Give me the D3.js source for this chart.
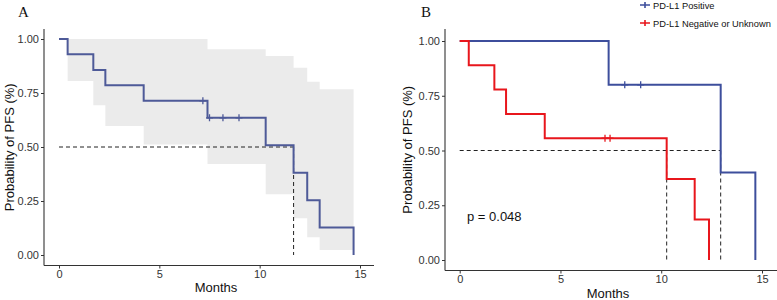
<!DOCTYPE html>
<html>
<head>
<meta charset="utf-8">
<script src="https://cdn.jsdelivr.net/npm/d3@7"></script>
<style>
  body { margin: 0; background: #fff; }
  text { font-family: Arial, "Liberation Sans", sans-serif; }
</style>
</head>
<body>
<script>
const W = 777, H = 300;

// shared ticks
const monthTicks = [0, 5, 10, 15];
const probTicks = [0, 0.25, 0.5, 0.75, 1];

// panel A: all patients
const aTime = [0, 0.43, 1.71, 2.31, 4.22, 7.40, 10.30, 11.69, 12.37, 12.99, 14.68];
const aSurv = [1, 0.929, 0.857, 0.786, 0.714, 0.635, 0.508, 0.381, 0.254, 0.127, 0];
const aUpper = [1, 1, 1, 1, 1, 0.952, 0.921, 0.867, 0.802, 0.767, 0.767];
const aLower = [1, 0.806, 0.693, 0.597, 0.512, 0.421, 0.281, 0.170, 0.082, 0.023, 0.023];
const aCensorTime = [7.17, 7.50, 8.17, 8.97];
const aCensorSurv = [0.714, 0.635, 0.635, 0.635];
const aMedian = [11.69];

// panel B: by PD-L1 status
const posTime = [0, 7.39, 12.95, 14.67];
const posSurv = [1, 0.8, 0.4, 0];
const posCensorTime = [8.19, 8.98];
const posCensorSurv = [0.8, 0.8];

const negTime = [0, 0.45, 1.72, 2.30, 4.22, 10.27, 11.66, 12.37];
const negSurv = [1, 0.889, 0.778, 0.667, 0.556, 0.370, 0.185, 0];
const negCensorTime = [7.21, 7.46];
const negCensorSurv = [0.556, 0.556];
const bMedian = [10.27, 12.95];

const groupNames = ["PD-L1 Positive", "PD-L1 Negative or Unknown"];
const blueA = "#4e5a98", blue = "#3d4e9c", red = "#e8161c";

const svg = d3.select("body").append("svg")
  .attr("width", W)
  .attr("height", H);

function zip(t, s) { return t.map((d, i) => ({t: d, s: s[i]})); }

function panel(opt) {
  const x = d3.scaleLinear().domain([0, 15]).range([opt.x0, opt.x15]);
  const y = d3.scaleLinear().domain([0, 1]).range([opt.y0, opt.y1]);
  const g = svg.append("g");

  const step = d3.line().curve(d3.curveStepAfter)
    .x(d => x(d.t)).y(d => y(d.s));

  if (opt.band) {
    const area = d3.area().curve(d3.curveStepAfter)
      .x(d => x(d.t)).y0(d => y(d.lo)).y1(d => y(d.hi));
    g.append("path")
      .datum(opt.band)
      .attr("fill", "#ebebeb")
      .attr("d", area);
  }

  // median lines
  const dash = "4,3";
  g.append("line")
    .attr("x1", x(0)).attr("x2", x(d3.max(opt.medians)))
    .attr("y1", y(0.5)).attr("y2", y(0.5))
    .attr("stroke", "#222").attr("stroke-width", 1).attr("stroke-dasharray", dash);
  g.selectAll(".vmed").data(opt.medians).join("line")
    .attr("x1", d => x(d)).attr("x2", d => x(d))
    .attr("y1", y(0.5)).attr("y2", y(0))
    .attr("stroke", "#222").attr("stroke-width", 1).attr("stroke-dasharray", dash);

  opt.curves.forEach(c => {
    g.append("path")
      .datum(c.data)
      .attr("fill", "none")
      .attr("stroke", c.color)
      .attr("stroke-width", 2)
      .attr("d", step);
    g.selectAll(null).data(c.censor).join("path")
      .attr("d", d => `M${x(d.t) - 3.5},${y(d.s)}h7M${x(d.t)},${y(d.s) - 3.5}v7`)
      .attr("stroke", c.color)
      .attr("stroke-width", 1.3);
  });

  // axes
  const xAxis = g.append("g")
    .attr("transform", `translate(0,${opt.axisY})`)
    .call(d3.axisBottom(x).tickValues(monthTicks).tickSize(3).tickPadding(2));
  xAxis.select(".domain").attr("d", `M${opt.axisX},0H${opt.axisXEnd}`);

  const yAxis = g.append("g")
    .attr("transform", `translate(${opt.axisX},0)`)
    .call(d3.axisLeft(y).tickValues(probTicks).tickFormat(d3.format(".2f")).tickSize(3).tickPadding(2));
  yAxis.select(".domain").attr("d", `M0,${opt.axisTop}V${opt.axisY}`);

  [xAxis, yAxis].forEach(a => {
    a.select(".domain").attr("stroke", "#333").attr("stroke-width", 1.1);
    a.selectAll(".tick line").attr("stroke", "#333");
    a.selectAll(".tick text").attr("fill", "#333").style("font-size", "11px")
      .style("font-family", "Arial, 'Liberation Sans', sans-serif");
  });

  g.append("text")
    .attr("x", (opt.axisX + opt.axisXEnd) / 2 + opt.mx)
    .attr("y", opt.monthsY)
    .attr("text-anchor", "middle")
    .style("font-size", "13px")
    .attr("fill", "#111")
    .text("Months");

  g.append("text")
    .attr("transform", `translate(${opt.ylabX},${(opt.axisTop + opt.axisY) / 2}) rotate(-90)`)
    .attr("text-anchor", "middle")
    .style("font-size", "13px")
    .attr("fill", "#111")
    .text("Probability of PFS (%)");

  g.append("text")
    .attr("x", opt.letterX).attr("y", 17)
    .style("font-family", "'Liberation Serif', 'DejaVu Serif', serif")
    .style("font-size", "15px")
    .attr("fill", "#111")
    .text(opt.letter);

  return {x, y, g};
}

// panel A
const bandA = aTime.slice(1).map((t, i) => ({t, lo: aLower[i + 1], hi: aUpper[i + 1]}));
panel({
  letter: "A", letterX: 18,
  x0: 59, x15: 360, y0: 255, y1: 39,
  axisX: 44, axisXEnd: 374, axisY: 265.5, axisTop: 29,
  monthsY: 292, mx: 7, ylabX: 14,
  band: bandA,
  medians: aMedian,
  curves: [{color: blueA, data: zip(aTime, aSurv), censor: zip(aCensorTime, aCensorSurv)}]
});

// panel B
const pb = panel({
  letter: "B", letterX: 421,
  x0: 459.7, x15: 762, y0: 260, y1: 41,
  axisX: 445, axisXEnd: 777, axisY: 270.5, axisTop: 29,
  monthsY: 298, mx: -3, ylabX: 412,
  medians: bMedian,
  curves: [
    {color: blue, data: zip(posTime, posSurv), censor: zip(posCensorTime, posCensorSurv)},
    {color: red, data: zip(negTime, negSurv), censor: zip(negCensorTime, negCensorSurv)}
  ]
});

pb.g.append("text")
  .attr("x", 467).attr("y", 221)
  .style("font-size", "13px")
  .attr("fill", "#111")
  .text("p = 0.048");

// legend
const legend = svg.append("g").attr("transform", "translate(640,0)");
[blue, red].forEach((c, i) => {
  const ly = 5 + i * 18;
  legend.append("path")
    .attr("d", `M0,${ly}h10M5,${ly - 3}v6`)
    .attr("stroke", c).attr("stroke-width", 1.6);
  legend.append("text")
    .attr("x", 13).attr("y", ly + 3.5)
    .style("font-size", "9.3px")
    .attr("fill", "#111")
    .text(groupNames[i]);
});
</script>
</body>
</html>
